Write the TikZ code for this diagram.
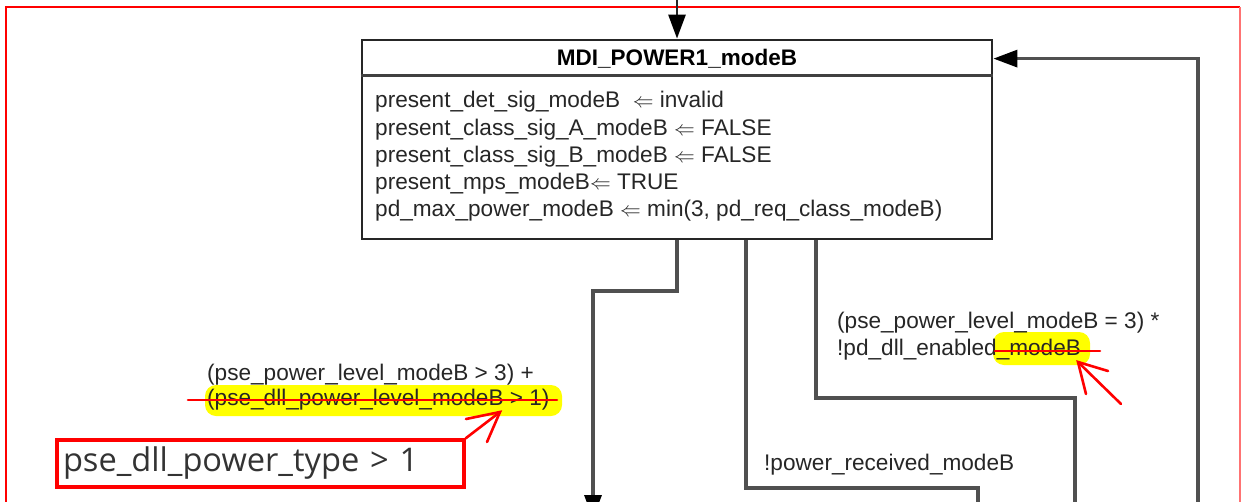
\documentclass[tikz,border=0pt]{standalone}
\usepackage{fontspec}
\setmainfont{Liberation Sans}
\newfontfamily\notefont{Open Sans}
\usetikzlibrary{arrows.meta,calc}
\definecolor{linegray}{HTML}{505050}
\definecolor{hiyellow}{HTML}{FFFF00}
\definecolor{pred}{HTML}{FF0000}
\begin{document}
\begin{tikzpicture}[x=1pt,y=-1pt,
  conn/.style={draw=linegray, line width=3.2pt},
  tipb/.style={-{Triangle[length=24pt,width=17pt,color=black]}},
  txt/.style={font=\fontsize{22.6}{26}\selectfont, inner sep=0pt, anchor=west,
    text=black!85, text height=16pt, text depth=5pt},
  redmark/.style={draw=pred, line width=2.6pt, line cap=round},
  hl/.style={fill=hiyellow, rounded corners=11pt}]
\clip (0,0) rectangle (1242,501);
\fill[white] (0,0) rectangle (1242,501);
% frame
\draw[pred, line width=2pt] (6,505) -- (6,7) -- (1240,7);
\draw[pred!55, line width=1.5pt] (1240,7) -- (1240,505);
% state box
\node[draw=black!85, line width=2.8pt, minimum width=630pt, minimum height=199pt,
  inner sep=0pt] (st) at (677,139.5) {};
\draw[black!75, line width=2.6pt] ($(st.north west)+(0,37)$) -- ($(st.north east)+(0,37)$);
\node[font=\fontsize{22.5}{26}\selectfont\bfseries, inner sep=0pt, text=black] (title) at (677,59) {MDI\_POWER1\_modeB};
\node[txt] (b1) at (375,102) {present\_det\_sig\_modeB~~$\Leftarrow$ invalid};
\node[txt] (b2) at (375,130) {present\_class\_sig\_A\_modeB $\Leftarrow$ FALSE};
\node[txt] (b3) at (375,157) {present\_class\_sig\_B\_modeB $\Leftarrow$ FALSE};
\node[txt] (b4) at (375,184) {present\_mps\_modeB$\Leftarrow$ TRUE};
\node[txt] (b5) at (375,211) {pd\_max\_power\_modeB $\Leftarrow$ min(3, pd\_req\_class\_modeB)};
% connectors
\coordinate (top) at (677,-5);
\draw[black!85, line width=2.8pt, tipb] (top) -- (st.north);
\coordinate (j1) at (593,291);
\coordinate (e1) at (593,519);
\draw[conn, tipb] (st.south) |- (j1) -- (e1);
\coordinate (j2) at (978,488);
\coordinate (e2) at (978,520);
\draw[conn] ([xshift=69pt]st.south) |- (j2) -- (e2);
\coordinate (j3) at (1075,398);
\coordinate (e3) at (1075,520);
\draw[conn] ([xshift=139pt]st.south) |- (j3) -- (e3);
\coordinate (e4) at (1198,520);
\draw[conn, tipb] (e4) |- ([yshift=-20pt]st.north east);
% highlights
\fill[hl] (205,385) rectangle (562,416);
\fill[hl] (993,332) rectangle (1090,365);
% labels
\node[txt] (la1) at (207,375) {(pse\_power\_level\_modeB > 3) +};
\node[txt] (la2) at (207,400) {(pse\_dll\_power\_level\_modeB > 1)};
\node[txt] (ra1) at (837,323) {(pse\_power\_level\_modeB = 3) *};
\node[txt] (ra2) at (837,350) {!pd\_dll\_enabled\_modeB};
\node[txt] (rc) at (764,465) {!power\_received\_modeB};
% strike-throughs
\draw[redmark] (188,400) -- (557,400);
\draw[redmark] (995,351) -- (1100,351);
% note box
\node[draw=pred, line width=3.5pt, text width=395pt, inner xsep=6pt, inner ysep=0pt,
  minimum height=47pt, align=left, text=black!80,
  font=\notefont\fontsize{32.6}{36}\selectfont] (note) at (260.5,463.5) {pse\_dll\_power\_type > 1};
% red hand-drawn arrows
\coordinate (tl) at (500,412);
\coordinate (bl1) at (466,419);
\coordinate (bl2) at (487,442);
\draw[redmark] (note.north east) -- (tl);
\draw[redmark] (bl1) -- (tl) -- (bl2);
\coordinate (tr) at (1078,362);
\coordinate (sr) at (1121,404);
\coordinate (br1) at (1108,371);
\coordinate (br2) at (1086,394);
\draw[redmark] (sr) -- (tr);
\draw[redmark] (br1) -- (tr) -- (br2);
\end{tikzpicture}
\end{document}
